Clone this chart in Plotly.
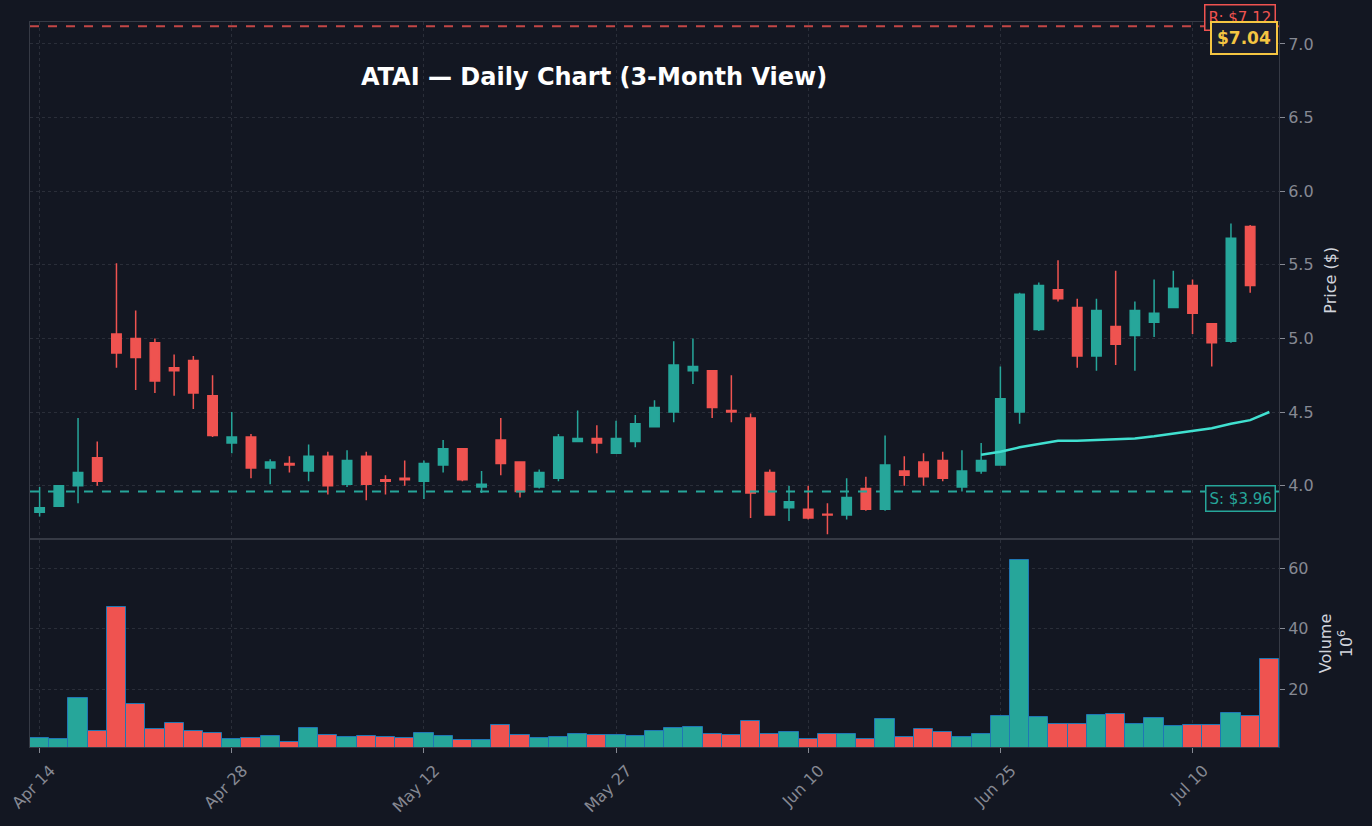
import pandas as pd
import plotly.graph_objects as go
from plotly.subplots import make_subplots

# ---------------- data ----------------
holidays = ["2025-05-26", "2025-06-19", "2025-07-04"]
dates = [d.strftime("%Y-%m-%d") for d in pd.bdate_range("2025-04-14", "2025-07-16")
         if d.strftime("%Y-%m-%d") not in holidays]

opens = [3.82, 3.86, 4.00, 4.19, 5.03, 5.00, 4.97, 4.80, 4.85, 4.61,
         4.29, 4.33, 4.12, 4.15, 4.10, 4.20, 4.01, 4.20, 4.04, 4.05,
         4.03, 4.14, 4.25, 3.99, 4.31, 4.16, 3.99, 4.05, 4.30, 4.32,
         4.22, 4.30, 4.40, 4.50, 4.78, 4.78, 4.51, 4.46, 4.09, 3.85,
         3.84, 3.805, 3.80, 3.98, 3.84, 4.10, 4.16, 4.17, 3.99, 4.10,
         4.14, 4.50, 5.06, 5.33, 5.21, 4.88, 5.08, 5.02, 5.11, 5.21,
         5.36, 5.10, 4.98, 5.76]
highs = [3.99, 4.00, 4.46, 4.30, 5.51, 5.19, 5.00, 4.89, 4.88, 4.75,
         4.50, 4.35, 4.18, 4.20, 4.28, 4.23, 4.24, 4.23, 4.07, 4.17,
         4.17, 4.31, 4.25, 4.10, 4.46, 4.16, 4.11, 4.35, 4.51, 4.41,
         4.44, 4.48, 4.58, 4.98, 5.00, 4.78, 4.75, 4.49, 4.11, 4.00,
         4.00, 3.88, 4.05, 4.06, 4.34, 4.20, 4.22, 4.23, 4.24, 4.29,
         4.81, 5.31, 5.38, 5.53, 5.27, 5.27, 5.46, 5.25, 5.40, 5.46,
         5.40, 5.10, 5.78, 5.77]
lows = [3.79, 3.86, 3.88, 4.00, 4.80, 4.65, 4.63, 4.61, 4.52, 4.33,
        4.22, 4.05, 4.01, 4.09, 4.03, 3.94, 3.99, 3.90, 3.94, 4.00,
        3.91, 4.09, 4.03, 3.95, 4.07, 3.92, 3.98, 4.03, 4.30, 4.22,
        4.22, 4.26, 4.40, 4.43, 4.69, 4.46, 4.43, 3.78, 3.80, 3.76,
        3.77, 3.67, 3.77, 3.83, 3.83, 4.00, 4.00, 4.03, 3.96, 4.08,
        4.14, 4.42, 5.05, 5.25, 4.80, 4.78, 4.82, 4.78, 5.01, 5.21,
        5.03, 4.81, 4.97, 5.31]
closes = [3.85, 4.00, 4.09, 4.03, 4.90, 4.87, 4.71, 4.78, 4.63, 4.34,
          4.33, 4.12, 4.16, 4.14, 4.20, 4.00, 4.17, 4.01, 4.03, 4.04,
          4.15, 4.25, 4.04, 4.01, 4.15, 3.96, 4.09, 4.33, 4.32, 4.29,
          4.32, 4.42, 4.53, 4.82, 4.81, 4.53, 4.50, 3.95, 3.80, 3.89,
          3.78, 3.80, 3.92, 3.84, 4.14, 4.07, 4.06, 4.05, 4.10, 4.17,
          4.59, 5.30, 5.36, 5.27, 4.88, 5.19, 4.96, 5.19, 5.17, 5.34,
          5.17, 4.97, 5.68, 5.36]

volumes = [3.65, 3.3, 16.9, 6.0, 47.1, 14.9, 6.6, 8.6, 6.0, 5.3,
           3.3, 3.65, 4.3, 2.3, 7.0, 4.6, 4.0, 4.3, 4.0, 3.65,
           5.3, 4.3, 3.0, 3.0, 8.0, 4.6, 3.65, 4.0, 5.0, 4.6,
           4.6, 4.3, 6.0, 7.0, 7.3, 5.0, 4.6, 9.3, 5.0, 5.6,
           3.3, 5.0, 5.0, 3.3, 10.0, 4.1, 6.7, 5.7, 4.1, 5.1,
           11.0, 62.9, 10.7, 8.4, 8.4, 11.4, 11.7, 8.4, 10.4, 7.7,
           8.1, 8.1, 12.0, 11.0, 29.9]
last_day_up = False

sma50 = [None] * 49 + [4.21, 4.23, 4.26, 4.28, 4.305, 4.305, 4.31, 4.315,
                       4.32, 4.335, 4.355, 4.375, 4.39, 4.42, 4.445, 4.50]

support = 3.96
resistance = 7.12
last_price = 7.04
tick_idx = [0, 10, 20, 30, 40, 50, 60]

# ---------------- styling ----------------
BG = "#131722"
UP = "#26a69a"
DOWN = "#ef5350"
GRID = "#2a2e39"
TICK = "#868993"
AXT = "#d1d4dc"
FONT = "DejaVu Sans"

fig = make_subplots(rows=2, cols=1, shared_xaxes=True)

fig.add_trace(go.Candlestick(
    x=dates[:len(opens)], open=opens, high=highs, low=lows, close=closes,
    increasing=dict(line=dict(color=UP, width=1.5), fillcolor=UP),
    decreasing=dict(line=dict(color=DOWN, width=1.5), fillcolor=DOWN),
    whiskerwidth=0, showlegend=False, name="ATAI"), row=1, col=1)

fig.add_trace(go.Scatter(x=dates, y=sma50, mode="lines",
                         line=dict(color="#40e0d0", width=2.5),
                         showlegend=False, name="SMA 50"), row=1, col=1)

up_flags = [c >= o for o, c in zip(opens, closes)] + [last_day_up]
vol_colors = [UP if u else DOWN for u in up_flags]
fig.add_trace(go.Bar(x=dates, y=volumes, marker=dict(color=vol_colors,
                     line=dict(color="#1f77b4", width=1)),
                     showlegend=False, name="Volume"), row=2, col=1)

fig.add_shape(type="line", xref="x domain", yref="y", x0=0, x1=1,
              y0=support, y1=support, line=dict(color=UP, width=2, dash="dash"))
fig.add_shape(type="line", xref="x domain", yref="y", x0=0, x1=1,
              y0=resistance, y1=resistance,
              line=dict(color=DOWN, width=2, dash="dash"), opacity=0.8)

fig.add_annotation(xref="paper", yref="y", x=0.9976, xanchor="right",
                   y=resistance, yshift=9, text=f"R: ${resistance:.2f}",
                   showarrow=False, font=dict(family=FONT, color=DOWN, size=15),
                   bgcolor=BG, bordercolor=DOWN, borderwidth=1.5, borderpad=3)
fig.add_annotation(xref="paper", yref="y", x=0.9992, xanchor="right",
                   y=last_price, yshift=0, text=f"<b>${last_price:.2f}</b>",
                   showarrow=False, font=dict(family=FONT, color="#f5c542", size=17),
                   bgcolor="#1c1f2e", bordercolor="#f5c542", borderwidth=2, borderpad=5)
fig.add_annotation(xref="paper", yref="y", x=0.9976, xanchor="right",
                   y=support, yshift=-7, text=f"S: ${support:.2f}",
                   showarrow=False, font=dict(family=FONT, color=UP, size=15),
                   bgcolor=BG, bordercolor=UP, borderwidth=1.5, borderpad=3)

axis_common = dict(showline=True, mirror=True, linecolor="#363a45", linewidth=1,
                   gridcolor=GRID, griddash="dot", zeroline=False)

fig.update_layout(
    width=1372, height=826,
    paper_bgcolor=BG, plot_bgcolor=BG,
    margin=dict(l=30, r=93, t=22, b=79),
    font=dict(family=FONT, color=TICK),
    bargap=0,
    title=dict(text="<b>ATAI — Daily Chart (3-Month View)</b>",
               x=0.433, xanchor="center", y=0.907, yanchor="middle",
               font=dict(family=FONT, size=24, color="white")),
    xaxis=dict(type="category", rangeslider=dict(visible=False),
               tickvals=[dates[i] for i in tick_idx], showticklabels=False,
               ticks="", **axis_common),
    xaxis2=dict(type="category", tickvals=[dates[i] for i in tick_idx],
                ticktext=[pd.Timestamp(dates[i]).strftime("%b %d") for i in tick_idx],
                tickangle=-45, ticks="outside", ticklen=5, tickcolor=TICK,
                ticklabelshift=11, ticklabelstandoff=2,
                tickfont=dict(family=FONT, size=16, color=TICK), automargin=False,
                **axis_common),
    yaxis=dict(domain=[0.2876, 1], side="right", range=[3.641, 7.149],
               dtick=0.5, tickformat=".1f", ticks="outside", ticklen=5, tickcolor=TICK,
               tickfont=dict(family=FONT, size=16, color=TICK), automargin=False,
               title=dict(text="Price ($)", font=dict(family=FONT, size=16, color=AXT),
                          standoff=12),
               **axis_common),
    yaxis2=dict(domain=[0, 0.2855], side="right", range=[0.77, 69.4],
                tickvals=[20, 40, 60], ticks="outside", ticklen=5, tickcolor=TICK,
                tickfont=dict(family=FONT, size=16, color=TICK), automargin=False,
                title=dict(text="Volume<br>10<sup>6</sup>",
                           font=dict(family=FONT, size=16, color=AXT), standoff=12),
                **axis_common),
)

fig.write_html("out.html")
